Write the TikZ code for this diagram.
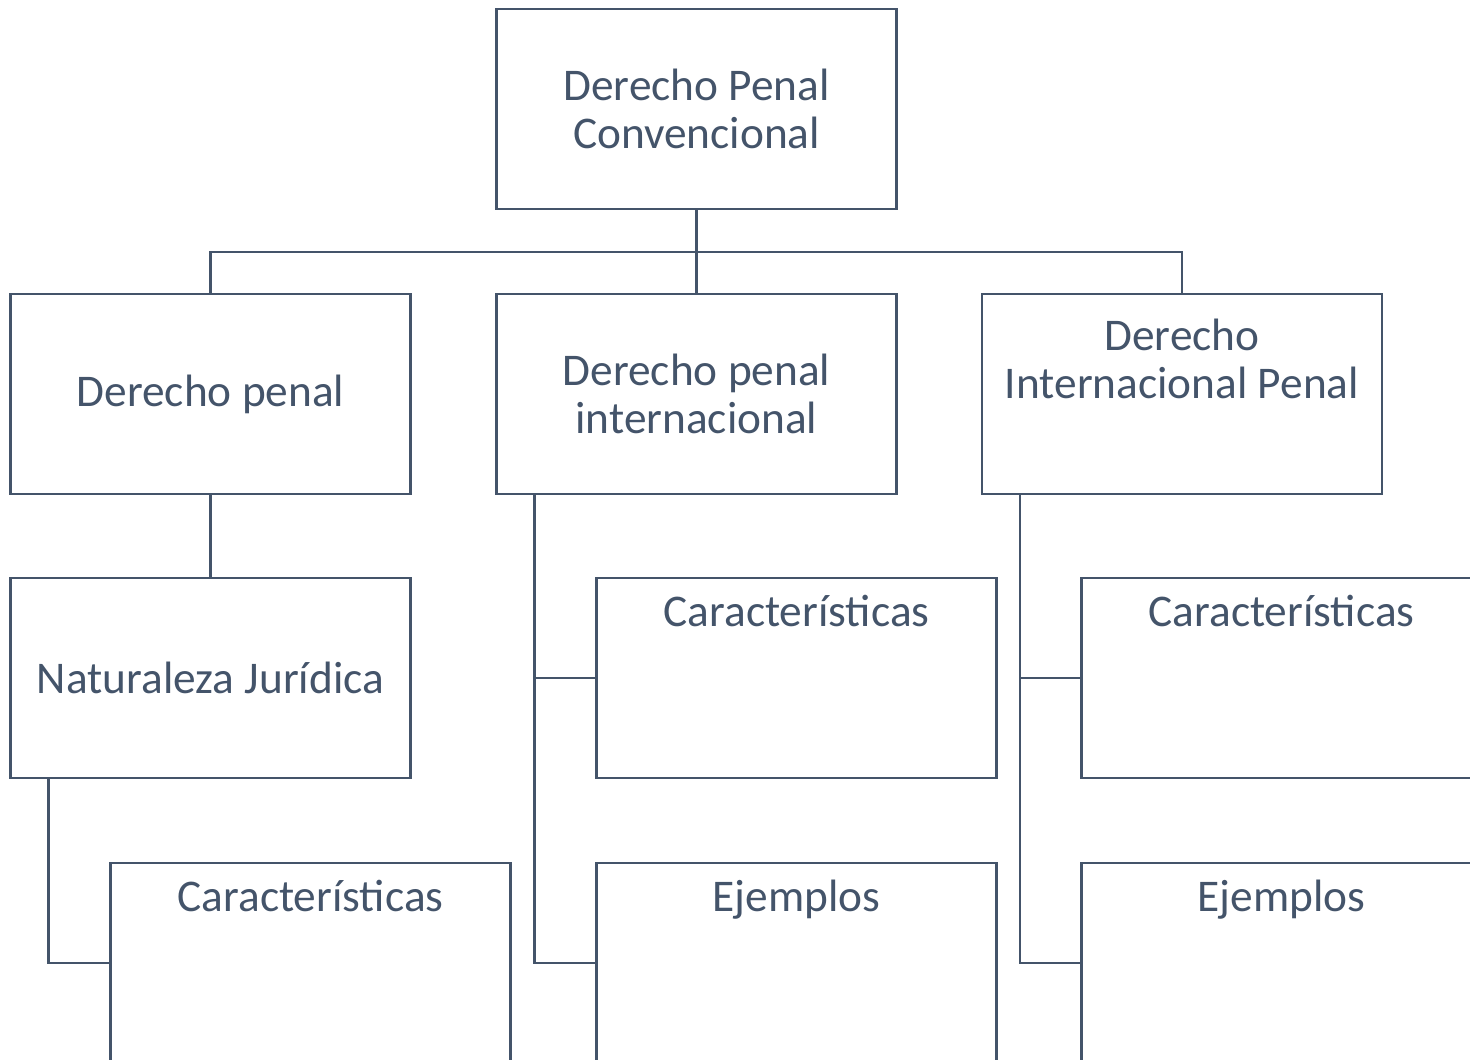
\documentclass[tikz,border=0pt]{standalone}
\usepackage{fontspec}
\setmainfont{Carlito}
\usepackage{tikz}
\usetikzlibrary{positioning, calc}
\definecolor{pizarra}{RGB}{68,84,106}

\begin{document}
\begin{tikzpicture}[
    caja/.style={draw=pizarra, line width=1.4pt, minimum width=8cm, minimum height=4cm, inner sep=0pt, align=center, text=pizarra, font=\fontsize{25.8}{27.2}\selectfont},
    cajasup/.style={caja, text height=0.98cm, text depth=3.02cm},
    enlace/.style={draw=pizarra, line width=1.4pt}
]
    \useasboundingbox (0,0) rectangle (29.4,-21.2);
    \clip (0,0) rectangle (29.4,-21.2);

    % Raiz
    \node[caja] (conv) at (13.93,-2.18) {Derecho Penal\\Convencional};

    % Segundo nivel
    \node[caja] (penal) at (4.21,-7.88) {Derecho penal};
    \node[caja] (pint) at (13.93,-7.88) {Derecho penal\\internacional};
    \node[caja, text height=2.09cm, text depth=1.91cm] (intp) at (23.64,-7.88) {Derecho\\Internacional Penal};

    % Tercer nivel
    \node[caja] (natjur) at (4.21,-13.56) {Naturaleza Jurídica};
    \node[cajasup] (carpint) at (15.93,-13.56) {Características};
    \node[cajasup] (carintp) at (25.63,-13.56) {Características};

    % Cuarto nivel
    \node[cajasup] (carnat) at (6.21,-19.26) {Características};
    \node[cajasup] (ejpint) at (15.93,-19.26) {Ejemplos};
    \node[cajasup] (ejintp) at (25.63,-19.26) {Ejemplos};

    % Conectores
    \coordinate (bus) at (13.93,-5.04);
    \draw[enlace] (conv.south) -- (pint.north);
    \draw[enlace] (penal.north) |- (bus) -| (intp.north);
    \draw[enlace] (penal.south) -- (natjur.north);
    \draw[enlace] ([xshift=0.78cm]natjur.south west) |- (carnat.west);
    \draw[enlace] ([xshift=0.78cm]pint.south west) |- (carpint.west);
    \draw[enlace] ([xshift=0.78cm]pint.south west) |- (ejpint.west);
    \draw[enlace] ([xshift=0.78cm]intp.south west) |- (carintp.west);
    \draw[enlace] ([xshift=0.78cm]intp.south west) |- (ejintp.west);
\end{tikzpicture}
\end{document}
